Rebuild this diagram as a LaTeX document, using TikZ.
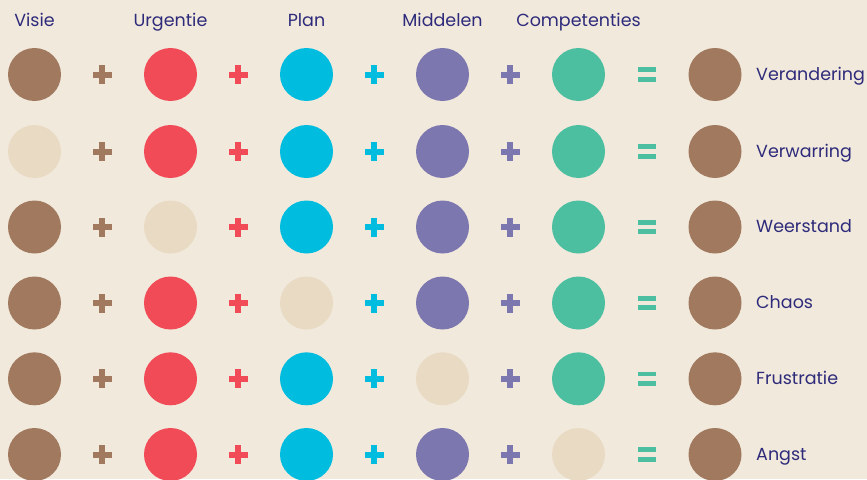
\documentclass[tikz,border=0pt]{standalone}
\usepackage{fontspec}
\setmainfont{Poppins}
\definecolor{bgc}{HTML}{F2E9DD}
\definecolor{brownc}{HTML}{A0795F}
\definecolor{redc}{HTML}{F04B56}
\definecolor{cyanc}{HTML}{00BCDF}
\definecolor{purplec}{HTML}{7C77AE}
\definecolor{greenc}{HTML}{4BBFA0}
\definecolor{emptyc}{HTML}{E9DBC3}
\definecolor{textc}{HTML}{2E2B7A}
\tikzset{
  dot/.style={circle, fill=#1, minimum size=53pt, inner sep=0pt},
  head/.style={text=textc, font=\fontsize{17.5}{20}\selectfont, anchor=base},
  result/.style={text=textc, font=\fontsize{17.5}{20}\selectfont, anchor=base west, inner sep=0pt},
}
% plus and equals signs drawn as bars
\newcommand{\plussign}[3]{% x, y, colour
  \fill[#3] ($(#1,#2)+(-9.5,-3)$) rectangle ($(#1,#2)+(9.5,3)$);
  \fill[#3] ($(#1,#2)+(-3,-9.5)$) rectangle ($(#1,#2)+(3,9.5)$);
}
\newcommand{\equalsign}[3]{%
  \fill[#3] ($(#1,#2)+(-9,-7.3)$) rectangle ($(#1,#2)+(9,-2.4)$);
  \fill[#3] ($(#1,#2)+(-9,2.4)$) rectangle ($(#1,#2)+(9,7.3)$);
}
\usetikzlibrary{calc}
\begin{document}
\begin{tikzpicture}[x=1pt, y=-1pt]
\fill[bgc] (0,0) rectangle (867,479);
\useasboundingbox (0,0) rectangle (867,479);

% column headings
\node[head] (hv) at (34.5,26.5) {Visie};
\node[head] (hu) at (170.5,26.5) {Urgentie};
\node[head] (hp) at (306.5,26.5) {Plan};
\node[head] (hm) at (442.5,26.5) {Middelen};
\node[head] (hc) at (578.5,26.5) {Competenties};

% rows: which ingredient is missing, and the result
\foreach \row/\yy/\miss/\lab in {1/74.5/0/Verandering, 2/151.5/1/Verwarring, 3/227/2/Weerstand, 4/303/3/Chaos, 5/378.8/4/Frustratie, 6/454.5/5/Angst}{
  \foreach \col/\xx/\cc in {1/34.5/brownc, 2/170.5/redc, 3/306.5/cyanc, 4/442.5/purplec, 5/578.5/greenc}{
    \ifnum\col=\miss
      \node[dot=emptyc] (c\row\col) at (\xx,\yy) {};
    \else
      \node[dot=\cc] (c\row\col) at (\xx,\yy) {};
    \fi
  }
  \plussign{102}{\yy}{brownc}
  \plussign{238}{\yy}{redc}
  \plussign{374}{\yy}{cyanc}
  \plussign{510}{\yy}{purplec}
  \equalsign{647}{\yy}{greenc}
  \node[dot=brownc] (r\row) at (715,\yy) {};
  \node[result] (l\row) at (756,\yy+5.5) {\lab};
}
\end{tikzpicture}
\end{document}
